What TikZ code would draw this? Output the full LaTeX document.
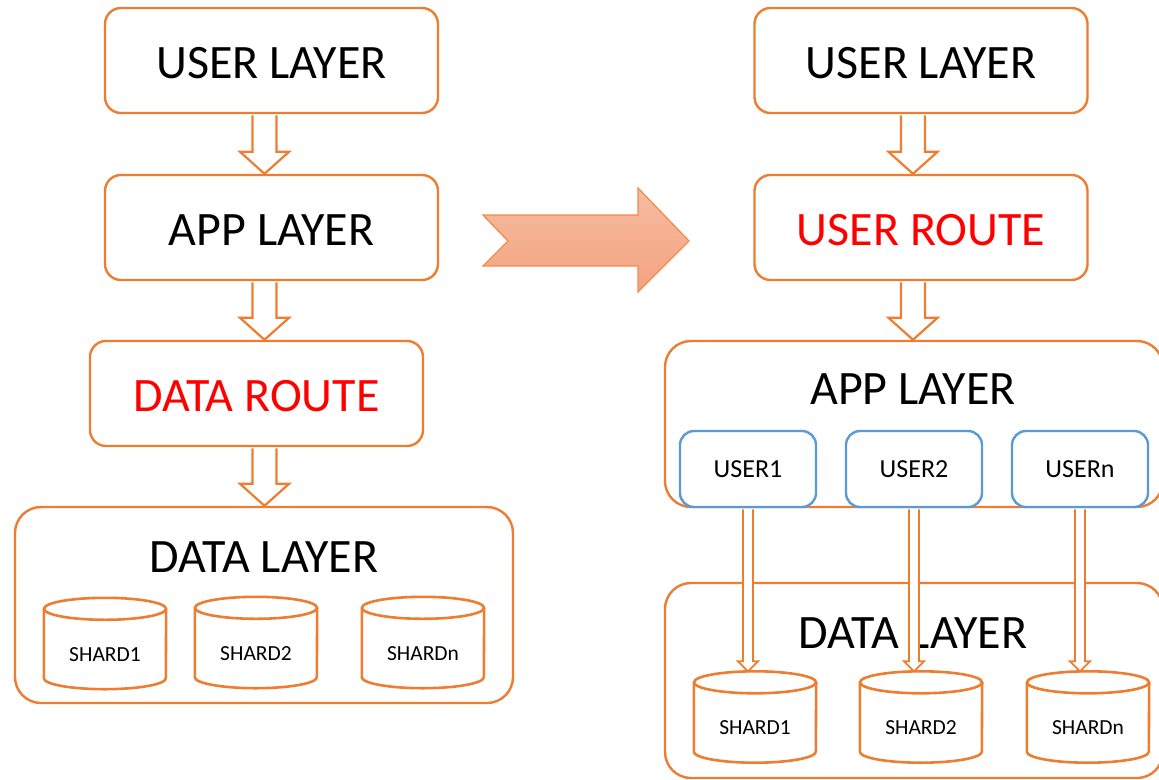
\documentclass[tikz,border=0pt]{standalone}
\usepackage{fontspec}
\setmainfont{Carlito}
\usetikzlibrary{calc}
\definecolor{org}{HTML}{ED7D31}
\definecolor{blu}{HTML}{5B9BD5}
\definecolor{arrtop}{HTML}{F6BC9F}
\definecolor{arrbot}{HTML}{F3A380}
\definecolor{arrline}{HTML}{F08C50}
\tikzset{
  layerbox/.style={draw=org, line width=2.4pt, rounded corners=16pt, fill=white, inner sep=0pt,
    minimum width=333pt, minimum height=105pt, font=\fontsize{48}{54}\selectfont,
    text height=35pt, text depth=-4pt},
  widebox/.style={draw=org, line width=2.4pt, rounded corners=26pt, fill=white, inner sep=0pt, minimum width=498pt},
  userbox/.style={draw=blu, line width=2.4pt, rounded corners=14pt, fill=white, minimum width=136pt,
    minimum height=76pt, inner sep=0pt, font=\fontsize{26}{28}\selectfont},
  bigtxt/.style={font=\fontsize{48}{54}\selectfont, inner sep=0pt},
  shard/.style={minimum width=122pt, minimum height=91pt, inner sep=0pt, text height=35pt, text depth=0pt,
    font=\fontsize{21.5}{24}\selectfont},
  hollow/.style={draw=org, line width=2.2pt, fill=white, line join=miter},
  thinarr/.style={draw=org, line width=1.8pt, fill=white, line join=miter},
  cyl/.style={draw=org, line width=2.6pt},
}
\newcommand\hollowarrow[3]{%
  \draw[hollow] let \p1=(#1.south), \p2=(#2.north), \p3=(#3,0) in
    (\x3-12pt,\y1-1.2pt) -- (\x3-12pt,\y2+22pt) -- (\x3-24.5pt,\y2+22pt) -- (\x3,\y2)
    -- (\x3+24.5pt,\y2+22pt) -- (\x3+12pt,\y2+22pt) -- (\x3+12pt,\y1-1.2pt);
}
\newcommand\thinarrow[2]{%
  \draw[thinarr] let \p1=(#1.south), \p2=(#2.north) in
    (\x1-5pt,\y1-1.2pt) -- (\x1-5pt,\y2+10pt) -- (\x1-10pt,\y2+10pt) -- (\x1,\y2)
    -- (\x1+10pt,\y2+10pt) -- (\x1+5pt,\y2+10pt) -- (\x1+5pt,\y1-1.2pt);
}
\newcommand\cylinder[1]{%
  \draw[cyl] let \p1=(#1.north west), \p2=(#1.south east) in
    (\x1,\y1-11pt) -- (\x1,\y2+11pt) arc[start angle=180, end angle=360, x radius=61pt, y radius=11pt]
    -- (\x2,\y1-11pt);
  \draw[cyl] let \p1=(#1.north) in (\x1,\y1-11pt) ellipse[x radius=61pt, y radius=11pt];
}
\begin{document}
\begin{tikzpicture}[x=1pt, y=-1pt]
\path[use as bounding box] (0,0) rectangle (1159,779);
\clip (0,0) rectangle (1159,779);

% ---------- left column ----------
\node[layerbox] (lu) at (271.5,60.5) {USER LAYER};
\node[layerbox] (la) at (271.5,227.5) {APP LAYER};
\node[layerbox, text=red] (lr) at (256.5,393.5) {DATA ROUTE};
\node[widebox, minimum height=196pt] (ld) at (264,605) {};
\node[bigtxt] (ldt) at (264,557) {DATA LAYER};
\node[shard] (ls1) at (105,643.5) {SHARD1};
\node[shard] (ls2) at (256,642.5) {SHARD2};
\node[shard] (ls3) at (423,642.5) {SHARDn};
\cylinder{ls1}\cylinder{ls2}\cylinder{ls3}
\hollowarrow{lu}{la}{264.5}
\hollowarrow{la}{lr}{264.5}
\hollowarrow{lr}{ld}{264.5}

% ---------- big arrow ----------
\draw[draw=arrline, line width=1.3pt, top color=arrtop, bottom color=arrbot]
  (483,215) -- (638,215) -- (638,188) -- (689,241) -- (638,292) -- (638,266) -- (483,266) -- (508,241) -- cycle;

% ---------- right column ----------
\node[layerbox] (ru) at (921,60.5) {USER LAYER};
\node[layerbox, text=red] (rr) at (921,227.5) {USER ROUTE};
\node[widebox, minimum height=166pt] (ra) at (914,424) {};
\node[bigtxt] (rat) at (913,389) {APP LAYER};
\node[userbox] (u1) at (748,469) {USER1};
\node[userbox] (u2) at (914,469) {USER2};
\node[userbox] (u3) at (1080,469) {USERn};
\node[widebox, minimum height=195pt] (rd) at (914,680.5) {};
\node[bigtxt] (rdt) at (913,633) {DATA LAYER};
\node[shard] (rs1) at (755,717) {SHARD1};
\node[shard] (rs2) at (921,717) {SHARD2};
\node[shard] (rs3) at (1088,717) {SHARDn};
\cylinder{rs1}\cylinder{rs2}\cylinder{rs3}
\hollowarrow{ru}{rr}{913}
\hollowarrow{rr}{ra}{913}
\thinarrow{u1}{rs1}
\thinarrow{u2}{rs2}
\thinarrow{u3}{rs3}
\end{tikzpicture}
\end{document}
